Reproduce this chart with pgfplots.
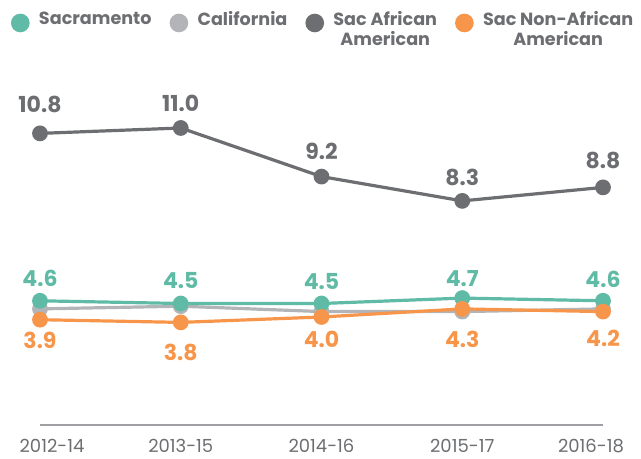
\documentclass[border=0pt]{standalone}
\usepackage{fontspec}
\setmainfont{Poppins}
\usepackage{pgfplots}
\pgfplotsset{compat=1.18}
\usepackage{pgfplotstable}
\definecolor{cteal}{HTML}{5FBBA5}
\definecolor{cgray}{HTML}{B2B4B7}
\definecolor{cdark}{HTML}{6D6E71}
\definecolor{corange}{HTML}{F7964A}
\definecolor{axisgray}{HTML}{9D9FA2}
\definecolor{tickgray}{HTML}{6D6E71}

\pgfplotstableread{
x y dy
0 4.6 22
1 4.5 23
2 4.5 22
3 4.7 20
4 4.6 21
}\sac
\pgfplotstableread{
x y
0 4.3
1 4.4
2 4.2
3 4.2
4 4.3
}\cal
\pgfplotstableread{
x y dy
0 10.8 29
1 11.0 25
2 9.2 25
3 8.3 23
4 8.8 27
}\afam
\pgfplotstableread{
x y dy
0 3.9 -21
1 3.8 -30
2 4.0 -22
3 4.3 -30
4 4.2 -27
}\nonaf

\pgfplotsset{
  lbl/.style={
    nodes near coords,
    point meta=explicit,
    visualization depends on={\thisrow{dy} \as \dy},
    every node near coord/.append style={anchor=center, inner sep=0pt, yshift=0.75*\dy pt,
       text=#1, font=\fontsize{16.5}{18}\selectfont\bfseries,
       /pgf/number format/.cd, fixed, fixed zerofill, precision=1, assume math mode=true},
  }
}

\begin{document}
\begin{tikzpicture}
\begin{axis}[
  name=ax,
  scale only axis, width=422.25pt, height=222.75pt,
  xmin=0, xmax=4, ymin=0, ymax=11,
  clip=false,
  axis x line*=bottom, axis y line=none,
  x axis line style={draw=axisgray, line width=1.8pt, -},
  xtick={0,1,2,3,4},
  xticklabels={\hspace*{18pt}2012-14, 2013-15, 2014-16, 2015-17, 2016-18\hspace*{18pt}},
  major tick length=0pt,
  ytick=\empty,
  xticklabel style={anchor=north, inner sep=0pt, yshift=-10.5pt, text=tickgray, font=\fontsize{13.5}{15}\selectfont},
  legend columns=4,
  legend image code/.code={\fill[#1, draw=none] (7pt,4.5pt) circle (7pt);},
  legend style={at={(rel axis cs:-0.052,1.404)}, anchor=north west, draw=none, fill=none,
    inner sep=0pt, font=\fontsize{13.2}{15}\selectfont\bfseries, text=cdark,
    cells={align=center},
    /tikz/every odd column/.style={column sep=5pt},
    /tikz/every even column/.style={column sep=11.5pt}},
  every axis plot/.append style={line width=2.4pt, mark=*, mark size=4.7pt},
]
\addlegendimage{cteal}
\addlegendentry{Sacramento\\\mbox{}}
\addlegendimage{cgray}
\addlegendentry{California\\\mbox{}}
\addlegendimage{cdark}
\addlegendentry{Sac African\\American}
\addlegendimage{corange}
\addlegendentry{Sac Non-African\\American}

\addplot[cgray, forget plot] table[x=x,y=y] {\cal};
\addplot[cteal, forget plot, lbl=cteal] table[x=x,y=y,meta=y] {\sac};
\addplot[cdark, forget plot, lbl=cdark] table[x=x,y=y,meta=y] {\afam};
\addplot[corange, forget plot, lbl=corange] table[x=x,y=y,meta=y] {\nonaf};
\end{axis}
\pgfresetboundingbox
\path[use as bounding box] ([shift={(-30pt,-25.5pt)}]ax.south west) rectangle ([shift={(450.75pt,318.75pt)}]ax.south west);
\end{tikzpicture}
\end{document}
